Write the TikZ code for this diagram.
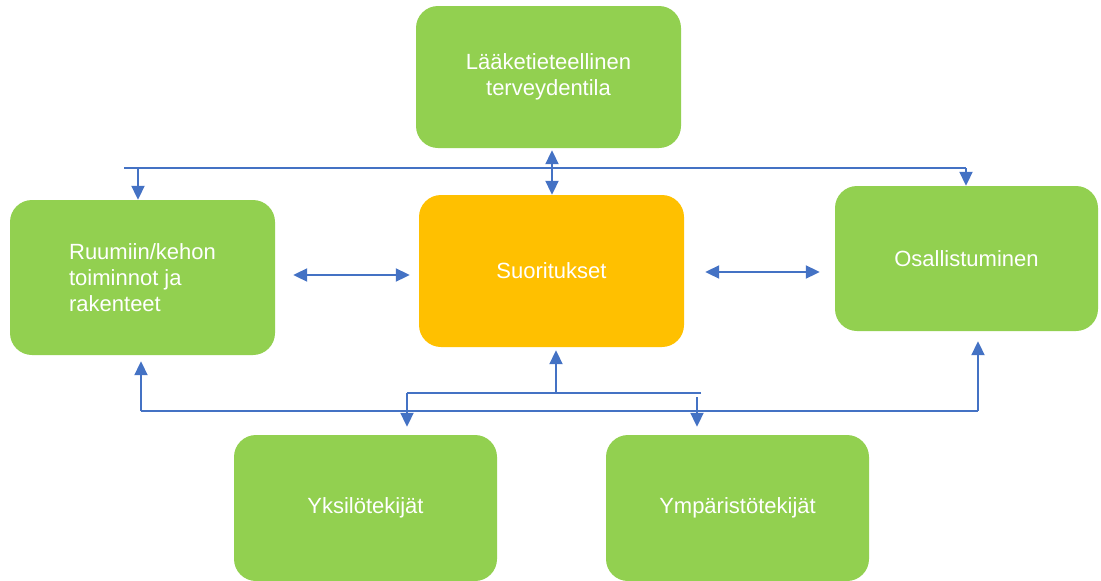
\documentclass[tikz,border=0pt]{standalone}
\usepackage{fontspec}
\setmainfont{Liberation Sans}
\usetikzlibrary{arrows.meta}
\definecolor{boxgreen}{HTML}{92D050}
\definecolor{boxorange}{HTML}{FFC000}
\definecolor{lineblue}{HTML}{4472C4}
\tikzset{
  box/.style={rectangle, rounded corners=22pt, draw=none, text=white, align=center,
    font=\fontsize{22}{26}\selectfont, inner sep=0pt},
  gbox/.style={box, fill=boxgreen},
  obox/.style={box, fill=boxorange},
  ln/.style={draw=lineblue, line width=2pt},
  arr/.style={ln, -{Triangle[length=14pt,width=13pt]}},
  arrtwo/.style={ln, {Triangle[length=14pt,width=13pt]}-{Triangle[length=14pt,width=13pt]}},
}
\begin{document}
\begin{tikzpicture}[x=1pt,y=-1pt]
\useasboundingbox (0,0) rectangle (1101,581);
% boxes
\node[gbox, minimum width=265pt, minimum height=142pt] (top) at (548.5,77) {L\"a\"aketieteellinen\\terveydentila};
\node[obox, minimum width=265pt, minimum height=152pt] (ctr) at (551.5,271) {Suoritukset};
\node[gbox, minimum width=265pt, minimum height=155pt, align=left] (rl) at (142.5,277.5) {Ruumiin/kehon\\toiminnot ja\\rakenteet};
\node[gbox, minimum width=263pt, minimum height=145pt] (rr) at (966.5,258.5) {Osallistuminen};
\node[gbox, minimum width=263pt, minimum height=146pt] (bl) at (365.5,508) {Yksil\"otekij\"at};
\node[gbox, minimum width=263pt, minimum height=146pt] (br) at (737.5,508) {Ymp\"arist\"otekij\"at};
% top connectors
\coordinate (t1) at (124,168);
\coordinate (t2) at (966,168);
\coordinate (tA) at (138,168);
\coordinate (tB) at (966,168);
\coordinate (tM) at (552,168);
\draw[ln] (t1) -- (t2);
\draw[arr] (tA) -- (tA |- rl.north);
\draw[arr] (tB) -- (tB |- rr.north);
\draw[arrtwo, shorten <=2pt] (tM |- top.south) -- (tM |- ctr.north);
% horizontal double arrows
\coordinate (hL) at (0,275);
\coordinate (hR) at (0,272);
\draw[arrtwo, shorten <=18pt, shorten >=9pt] (rl.east |- hL) -- (ctr.west |- hL);
\draw[arrtwo, shorten <=21pt, shorten >=15pt] (ctr.east |- hR) -- (rr.west |- hR);
% bottom connectors
\coordinate (b1) at (141,411);
\coordinate (b2) at (978,411);
\draw[ln] (b1) -- (b2);
\draw[arr, shorten >=6pt] (b1) -- (b1 |- rl.south);
\draw[arr, shorten >=10pt] (b2) -- (b2 |- rr.south);
\coordinate (k1) at (407,393);
\coordinate (k2) at (701,393);
\coordinate (k3) at (697,397);
\coordinate (kM) at (556,393);
\draw[ln] (k2) -- (k1);
\draw[arr, shorten >=8pt] (k1) -- (k1 |- bl.north);
\draw[arr, shorten >=8pt] (k3) -- (k3 |- br.north);
\draw[arr, shorten >=3pt] (kM) -- (kM |- ctr.south);
\end{tikzpicture}
\end{document}
